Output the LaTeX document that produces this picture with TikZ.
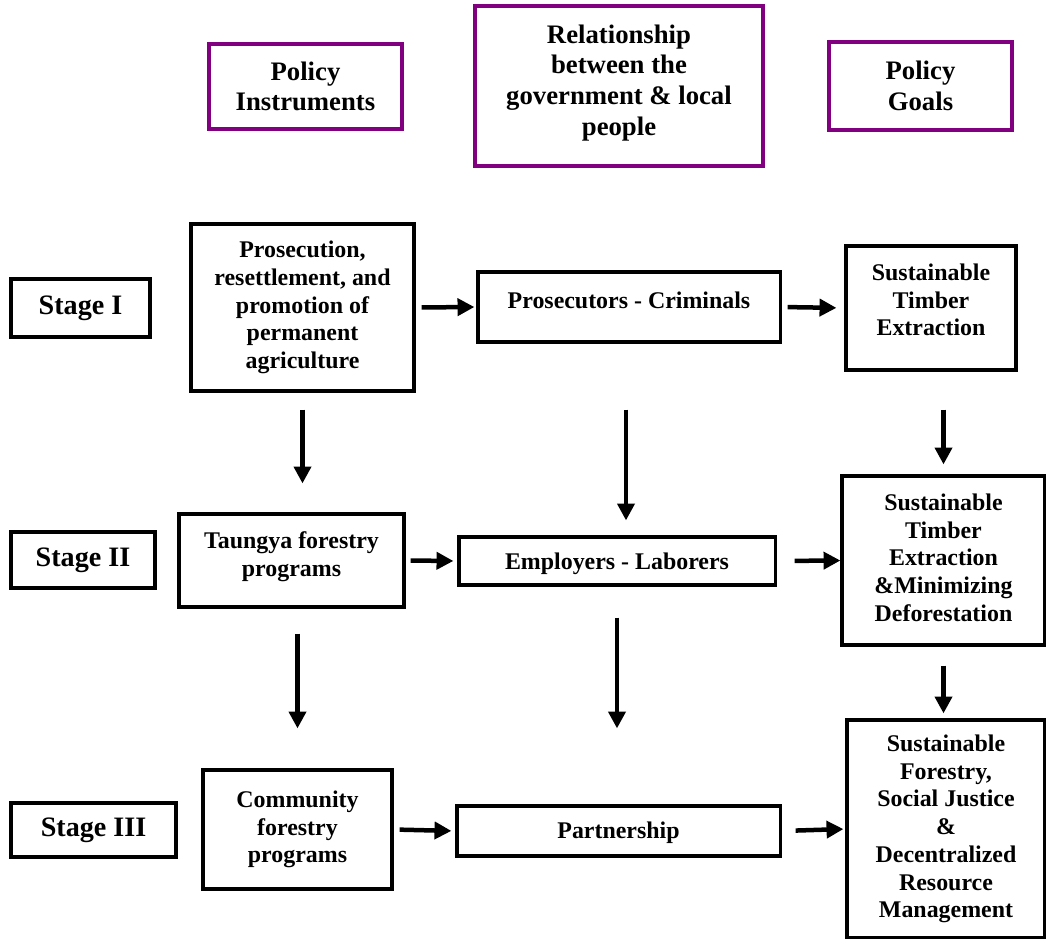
\documentclass[tikz,border=0pt]{standalone}
\usepackage{fontspec}
\setmainfont{Liberation Serif}
\usetikzlibrary{arrows.meta}
\definecolor{headpurple}{RGB}{128,0,128}

\begin{document}
\begin{tikzpicture}[x=0.025cm,y=-0.025cm,
    box/.style={draw=black,line width=2.2pt,align=center,inner sep=0pt,
        font=\fontsize{17}{19.7}\selectfont\bfseries},
    headbox/.style={box,draw=headpurple,font=\fontsize{19}{21.8}\selectfont\bfseries},
    stagebox/.style={box,font=\fontsize{20}{24}\selectfont\bfseries},
    arr/.style={line width=3.2pt,-{Triangle[length=12pt,width=12pt]}}]
    \useasboundingbox (0,0) rectangle (1046,939);

    % headings
    \node[headbox,minimum width=4.825cm,minimum height=2.125cm] (instr) at (305.5,86.5) {Policy\\Instruments};
    \node[headbox,minimum width=7.2cm,minimum height=4cm,text depth=0.3cm] (relat) at (619,86) {Relationship\\between the\\government \& local\\people};
    \node[headbox,minimum width=4.575cm,minimum height=2.2cm] (goals) at (920.5,86) {Policy\\Goals};

    % stage I
    \node[stagebox,minimum width=3.475cm,minimum height=1.45cm] (st1) at (80.5,308) {Stage I};
    \node[box,minimum width=5.575cm,minimum height=4.175cm] (prosec) at (302.5,307.5) {Prosecution,\\resettlement, and\\promotion of\\permanent\\agriculture};
    \node[box,minimum width=7.55cm,minimum height=1.75cm,text depth=0.35cm] (crim) at (629,307) {Prosecutors - Criminals};
    \node[box,minimum width=4.25cm,minimum height=3.1cm,text depth=0.4cm] (ste1) at (931,308) {Sustainable\\Timber\\Extraction};

    % stage II
    \node[stagebox,minimum width=3.6cm,minimum height=1.4cm] (st2) at (83,560) {Stage II};
    \node[box,minimum width=5.625cm,minimum height=2.325cm,text depth=0.32cm] (taungya) at (291.5,560.5) {Taungya forestry\\programs};
    \node[box,minimum width=7.9cm,minimum height=1.2cm,text height=0.56cm] (emp) at (617,561) {Employers - Laborers};
    \node[box,minimum width=5.075cm,minimum height=4.225cm,text depth=0.15cm] (ste2) at (943.5,560.5) {Sustainable\\Timber\\Extraction\\\&Minimizing\\Deforestation};

    % stage III
    \node[stagebox,minimum width=4.125cm,minimum height=1.35cm] (st3) at (93.5,830) {Stage III};
    \node[box,minimum width=4.725cm,minimum height=2.975cm] (comm) at (297.5,829.5) {Community\\forestry\\programs};
    \node[box,minimum width=8.075cm,minimum height=1.25cm,text height=0.5cm] (part) at (618.5,831) {Partnership};
    \node[box,minimum width=4.95cm,minimum height=5.45cm] (goal3) at (946,829) {Sustainable\\Forestry,\\Social Justice\\\&\\Decentralized\\Resource\\Management};

    % horizontal arrows
    \draw[arr,shorten <=0.15cm,shorten >=0.05cm] (prosec.east) -- (crim.west);
    \draw[arr,shorten <=0.15cm,shorten >=0.2cm] (crim.east) -- (ste1.west);
    \draw[arr,shorten <=0.125cm,shorten >=0.1cm] (taungya.east) -- (emp.west);
    \draw[arr,shorten <=0.45cm,shorten >=0cm] (emp.east) -- (ste2.west);
    \draw[arr,shorten <=0.15cm,shorten >=0.1cm] (comm.east) -- (part.west);
    \draw[arr,shorten <=0.35cm,shorten >=0.05cm] (part.east) -- (goal3.west);

    % vertical arrows
    \draw[arr,shorten <=0.425cm,shorten >=0.725cm] (prosec.south) -- (prosec.south |- taungya.north);
    \draw[arr,shorten <=1.65cm,shorten >=0.375cm] ([xshift=-0.075cm]crim.south) -- ([xshift=-0.075cm]crim.south |- emp.north);
    \draw[arr,shorten <=0.95cm,shorten >=0.25cm] (ste2.north |- ste1.south) -- (ste2.north);
    \draw[arr,shorten <=0.625cm,shorten >=1cm] (comm.north |- taungya.south) -- (comm.north);
    \draw[arr,shorten <=0.775cm,shorten >=1.9cm] (emp.south) -- (emp.south |- part.north);
    \draw[arr,shorten <=0.475cm,shorten >=0.125cm] (ste2.south) -- (ste2.south |- goal3.north);
\end{tikzpicture}
\end{document}
